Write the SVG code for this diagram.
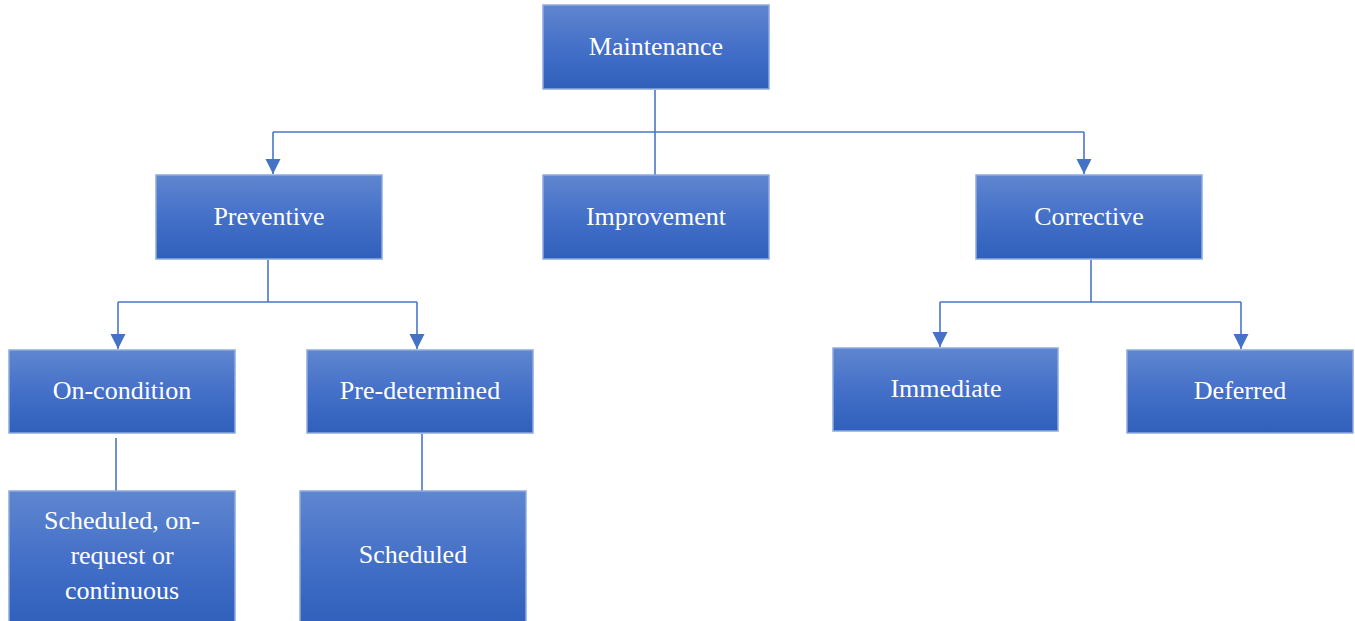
<svg xmlns="http://www.w3.org/2000/svg" width="1355" height="621" viewBox="0 0 1355 621">
<defs>
<linearGradient id="g" x1="0" y1="0" x2="0" y2="1">
<stop offset="0" stop-color="#5f86cf"/>
<stop offset="0.5" stop-color="#4470c8"/>
<stop offset="1" stop-color="#2f60bb"/>
</linearGradient>
<marker id="arrow" viewBox="0 0 16 16" refX="15" refY="8" markerWidth="16" markerHeight="16" markerUnits="userSpaceOnUse" orient="auto">
<path d="M0,0.5 L15,8 L0,15.5 Z" fill="#4472c4"/>
</marker>
</defs>
<style>
.box{fill:url(#g);stroke:#8eaadc;stroke-width:1.5}
.t{font-family:"Liberation Serif","Times New Roman",serif;font-size:26px;fill:#ffffff;text-anchor:middle}
.c{fill:none;stroke:#4a76c6;stroke-width:1.6}
</style>
<g id="connectors">
<path class="c" d="M655,90 V175"/>
<path class="c" d="M273,132 H1084"/>
<path class="c" d="M273,132 V174" marker-end="url(#arrow)"/>
<path class="c" d="M1084,132 V174" marker-end="url(#arrow)"/>
<path class="c" d="M268,260 V302"/>
<path class="c" d="M118,302 H417"/>
<path class="c" d="M118,302 V349" marker-end="url(#arrow)"/>
<path class="c" d="M417,302 V349" marker-end="url(#arrow)"/>
<path class="c" d="M1091,260 V302"/>
<path class="c" d="M940,302 H1241"/>
<path class="c" d="M940,302 V347" marker-end="url(#arrow)"/>
<path class="c" d="M1241,302 V349" marker-end="url(#arrow)"/>
<path class="c" d="M116,438 V493"/>
<path class="c" d="M422,434 V491"/>
</g>
<g id="maintenance"><rect class="box" x="543" y="5" width="226" height="84"/><text class="t" x="656" y="55">Maintenance</text></g>
<g id="preventive"><rect class="box" x="156" y="175" width="226" height="84"/><text class="t" x="269" y="225">Preventive</text></g>
<g id="improvement"><rect class="box" x="543" y="175" width="226" height="84"/><text class="t" x="656" y="225">Improvement</text></g>
<g id="corrective"><rect class="box" x="976" y="175" width="226" height="84"/><text class="t" x="1089" y="225">Corrective</text></g>
<g id="on-condition"><rect class="box" x="9" y="350" width="226" height="83"/><text class="t" x="122" y="399">On-condition</text></g>
<g id="pre-determined"><rect class="box" x="307" y="350" width="226" height="83"/><text class="t" x="420" y="399">Pre-determined</text></g>
<g id="immediate"><rect class="box" x="833" y="348" width="225" height="83"/><text class="t" x="946" y="397">Immediate</text></g>
<g id="deferred"><rect class="box" x="1127" y="350" width="226" height="83"/><text class="t" x="1240" y="399">Deferred</text></g>
<g id="scheduled-on-request"><rect class="box" x="9" y="491" width="226" height="135"/><text class="t" x="122" y="529">Scheduled, on-</text><text class="t" x="122" y="564">request or</text><text class="t" x="122" y="599">continuous</text></g>
<g id="scheduled"><rect class="box" x="300" y="491" width="226" height="135"/><text class="t" x="413" y="563">Scheduled</text></g>
</svg>
